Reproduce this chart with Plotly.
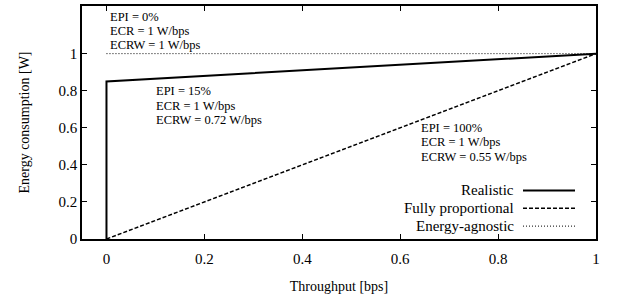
import plotly.graph_objects as go

# Data
throughput_realistic = [0, 0, 1]
power_realistic = [0, 0.85, 1]
throughput_prop = [0, 1]
power_prop = [0, 1]
throughput_agn = [0, 1]
power_agn = [1, 1]

series_names = ["Realistic", "Fully proportional", "Energy-agnostic"]
series_dash = ["solid", "4px,2px", "1px,2px"]
series_width = [2, 1.5, 1]

x_ticks = [0, 0.2, 0.4, 0.6, 0.8, 1]
y_ticks = [0, 0.2, 0.4, 0.6, 0.8, 1]

notes = [
    (0.006, 1.200, ["EPI = 0%", "ECR = 1 W/bps", "ECRW = 1 W/bps"]),
    (0.10, 0.797, ["EPI = 15%", "ECR = 1 W/bps", "ECRW = 0.72 W/bps"]),
    (0.64, 0.599, ["EPI = 100%", "ECR = 1 W/bps", "ECRW = 0.55 W/bps"]),
]
NOTE_STEP = 14.5 / 187  # line spacing in data units

FONT = "Liberation Serif"

fig = go.Figure()
xs = [throughput_realistic, throughput_prop, throughput_agn]
ys = [power_realistic, power_prop, power_agn]
for name, x, y, d, w in zip(series_names, xs, ys, series_dash, series_width):
    fig.add_trace(go.Scatter(x=x, y=y, mode="lines", name=name,
                             line=dict(color="black", width=w, dash=d),
                             showlegend=False, hoverinfo="skip"))

annotations = []
for x0, y0, texts in notes:
    for i, t in enumerate(texts):
        annotations.append(dict(x=x0, y=y0 - i * NOTE_STEP, xref="x", yref="y", text=t,
                                showarrow=False, xanchor="left", yanchor="middle",
                                borderpad=0,
                                font=dict(family=FONT, size=12.5, color="black")))

# manual legend (text left of sample line)
leg_y = [(239 - 190) / 235, (239 - 208) / 235, (239 - 226) / 235]
shapes = []
for name, d, w, ly in zip(series_names, series_dash, series_width, leg_y):
    annotations.append(dict(x=(515 - 82) / 514, y=ly, xref="paper", yref="paper",
                            text=name, showarrow=False, xanchor="right", yanchor="middle",
                            borderpad=0,
                            font=dict(family=FONT, size=15, color="black")))
    shapes.append(dict(type="line", xref="paper", yref="paper",
                       x0=(523 - 82) / 514, x1=(575 - 82) / 514, y0=ly, y1=ly,
                       line=dict(color="black", width=w, dash=d)))

axis_common = dict(showline=True, mirror="ticks", linecolor="black", linewidth=1.5,
                   ticks="inside", ticklen=5, tickcolor="black", showgrid=False,
                   zeroline=False, tickfont=dict(family=FONT, size=15, color="black"))

fig.update_layout(
    width=620, height=297,
    margin=dict(l=82, r=24, t=4, b=58),
    plot_bgcolor="white", paper_bgcolor="white",
    font=dict(family=FONT, size=14, color="black"),
    xaxis=dict(range=[-0.05, 1], tickvals=x_ticks, ticktext=[f"{v:g}" for v in x_ticks],
               ticklabelstandoff=5,
               title=dict(text="Throughput [bps]", font=dict(family=FONT, size=14), standoff=15),
               **axis_common),
    yaxis=dict(range=[0, 1.257], tickvals=y_ticks, ticktext=[f"{v:g}" for v in y_ticks],
               title=dict(text="Energy consumption [W]", font=dict(family=FONT, size=14), standoff=26),
               **axis_common),
    annotations=annotations,
    shapes=shapes,
)

fig.write_html("out.html", config={"displayModeBar": False},
               post_script="document.body.style.margin='0';")
